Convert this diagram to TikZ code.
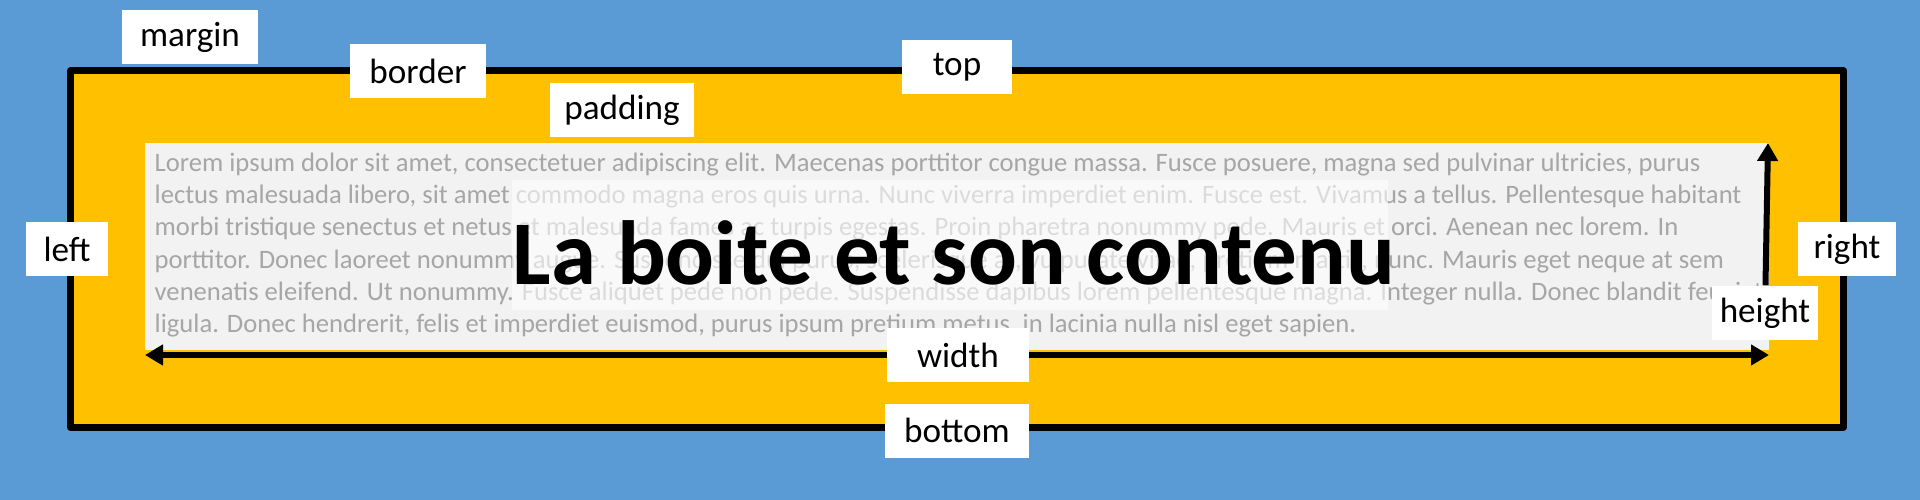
\documentclass[tikz,border=0pt]{standalone}
\usepackage{fontspec}
\setmainfont{Carlito}
\usepackage{tikz}
\usetikzlibrary{arrows.meta}
\definecolor{sky}{RGB}{91, 155, 213}
\definecolor{amber}{RGB}{255, 192, 0}
\definecolor{paper}{RGB}{242, 242, 242}
\definecolor{ink}{RGB}{166, 166, 166}
\tikzstyle{boxframe} = [draw=black, line width=0.07cm, fill=amber, line join=round, minimum width=17.72cm, minimum height=3.56cm, inner sep=0pt]
\tikzstyle{contentbox} = [fill=paper, minimum width=16.24cm, minimum height=2.07cm, inner sep=0pt]
\tikzstyle{filler} = [text=ink, font=\fontsize{7.57pt}{9.2pt}\selectfont, align=left, inner sep=0pt]
\tikzstyle{veil} = [fill=white, fill opacity=0.6, minimum width=8.76cm, minimum height=1.3cm, inner sep=0pt]
\tikzstyle{headline} = [text=black, font=\fontsize{25.9pt}{30pt}\selectfont\bfseries, inner sep=0pt]
\tikzstyle{tag} = [fill=white, text=black, font=\fontsize{10pt}{12pt}\selectfont, minimum height=0.54cm, inner sep=0pt]
\tikzstyle{tedge} = [draw, line width=0.06cm, -{Triangle[length=0.18cm, width=0.2cm]}]
\begin{document}
\begin{tikzpicture}[x=0.01cm, y=-0.01cm]

% background =============================
\fill[sky] (0,0) rectangle (1920,500);
\useasboundingbox (0,0) rectangle (1920,500);

% boxes
\node[boxframe] (box) at (957,249) {};
\node[contentbox] (content) at (957,246.5) {};

% text
\node[filler, anchor=north west] (lorem) at (154,152) {Lorem ipsum dolor sit amet, consectetuer adipiscing elit. Maecenas porttitor congue massa. Fusce posuere, magna sed pulvinar ultricies, purus\\
lectus malesuada libero, sit amet commodo magna eros quis urna. Nunc viverra imperdiet enim. Fusce est. Vivamus a tellus. Pellentesque habitant\\
morbi tristique senectus et netus et malesuada fames ac turpis egestas. Proin pharetra nonummy pede. Mauris et orci. Aenean nec lorem. In\\
porttitor. Donec laoreet nonummy augue. Suspendisse dui purus, scelerisque at, vulputate vitae, pretium mattis, nunc. Mauris eget neque at sem\\
venenatis eleifend. Ut nonummy. Fusce aliquet pede non pede. Suspendisse dapibus lorem pellentesque magna. Integer nulla. Donec blandit feugiat\\
ligula. Donec hendrerit, felis et imperdiet euismod, purus ipsum pretium metus, in lacinia nulla nisl eget sapien.};

% title
\node[veil] (veil) at (950,245) {};
\node[headline, anchor=base] (head) at (954,284) {La boite et son contenu};

% labels
\node[tag, minimum width=1.36cm] (margin) at (190,37) {margin};
\node[tag, minimum width=1.36cm] (border) at (418,71) {border};
\node[tag, minimum width=1.09cm] (top) at (box.north) {top};
\node[tag, minimum width=1.43cm] (padding) at (622,110) {padding};
\node[tag, minimum width=0.81cm] (left) at (box.west) {left};
\node[tag, minimum width=0.98cm] (right) at (box.east) {right};
\node[tag, minimum width=1.43cm] (bottom) at (box.south) {bottom};
\node[tag, minimum width=1.41cm] (width) at (958,355) {width};
\node[tag, minimum width=1.06cm] (height) at (1765,313) {height};

%edges
\coordinate (wl) at (145,355);
\coordinate (wr) at (1769,355);
\coordinate (ht) at (1768,143);
\path[tedge] (width) -- (wl);
\path[tedge] (width) -- (wr);
\path[tedge] (height) -- (ht);

\end{tikzpicture}
\end{document}
